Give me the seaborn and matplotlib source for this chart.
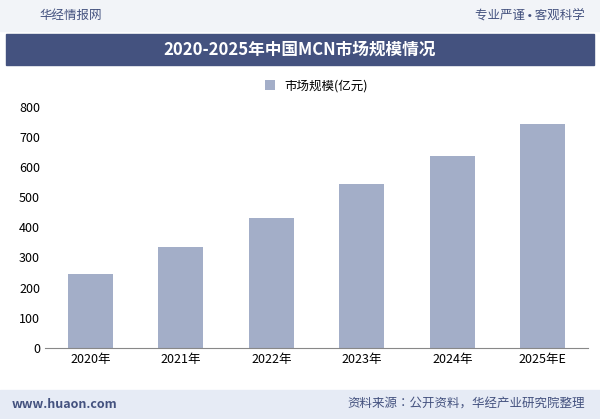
import matplotlib.pyplot as plt
import pandas as pd
import seaborn as sns
from matplotlib.patches import Rectangle
from matplotlib import font_manager

# pick whichever CJK font is actually installed
cjk = [f.name for f in font_manager.fontManager.ttflist if 'CJK' in f.name]
print(sorted(set(cjk)))
plt.rcParams['font.family'] = 'sans-serif'
plt.rcParams['font.sans-serif'] = sorted(set(cjk)) + ['DejaVu Sans']

years = ['2020年', '2021年', '2022年', '2023年', '2024年', '2025年E']
scale = [245, 335, 430, 545, 637, 742]
df = pd.DataFrame({'year': years, 'value': scale})

fig = plt.figure(figsize=(6, 4.19), dpi=100)
fig.patch.set_facecolor('white')

# header / title / footer bands
fig.add_artist(Rectangle((0, 0.925), 1, 0.075, transform=fig.transFigure, color='#f2f4f8', zorder=0))
fig.add_artist(Rectangle((0.01, 0.845), 0.98, 0.075, transform=fig.transFigure, color='#44527f', zorder=0))
fig.add_artist(Rectangle((0, 0), 1, 0.07, transform=fig.transFigure, color='#e6ebf5', zorder=0))
fig.text(0.065, 0.962, '华经情报网', fontsize=9, color='#44527f', va='center')
fig.text(0.975, 0.962, '专业严谨 • 客观科学', fontsize=9, color='#44527f', va='center', ha='right')
fig.text(0.5, 0.882, '2020-2025年中国MCN市场规模情况', fontsize=12, fontweight='bold',
         color='white', ha='center', va='center')
fig.text(0.02, 0.035, 'www.huaon.com', fontsize=9, color='#44527f', va='center', fontweight='bold')
fig.text(0.975, 0.035, '资料来源：公开资料，华经产业研究院整理', fontsize=9, color='#44527f',
         va='center', ha='right')

ax = fig.add_axes([0.075, 0.17, 0.905, 0.575])
sns.barplot(data=df, x='year', y='value', color='#a3aec8', width=0.5, ax=ax,
            label='市场规模(亿元)', saturation=1)
ax.set_ylim(0, 800)
ax.set_yticks(range(0, 801, 100))
ax.set_xlabel('')
ax.set_ylabel('')
ax.tick_params(labelsize=9, length=0)
for s in ['top', 'right', 'left']:
    ax.spines[s].set_visible(False)
ax.spines['bottom'].set_color('#888888')
ax.legend(loc='upper center', bbox_to_anchor=(0.5, 1.16), frameon=False, fontsize=9,
          handlelength=0.8, handleheight=0.8)

fig.savefig('out.png', dpi=100)
